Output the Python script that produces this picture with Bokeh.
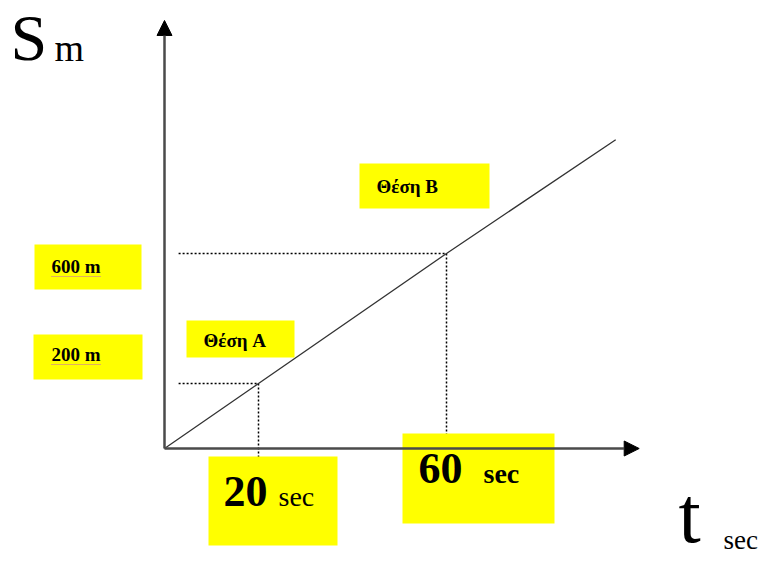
from bokeh.plotting import figure
from bokeh.models import BoxAnnotation, Label, Arrow, NormalHead, Range1d
from bokeh.embed import file_html
from bokeh.resources import INLINE

# ---- data ----
time_points = [20, 60]            # sec
dist_points = [200, 600]          # m
line_t = [0, 20, 60, 96]          # motion line (sec)
line_s = [0, 200, 600, 950]       # motion line (m)
time_labels = ["20", "60"]
dist_labels = ["200 m", "600 m"]
pos_labels = ["Θέση A", "Θέση B"]
axis_t_max = 101
axis_s_max = 1317

# ---- layout (reference-pixel mapping) ----
W, H = 764, 561
OX, OY = 164, 448        # origin in picture pixels
KX, KY = 4.7, 0.325      # px per sec, px per m


def X(px):
    return (px - OX) / KX


def Y(py):
    return (OY - py) / KY


p = figure(width=W, height=H, output_backend="svg", toolbar_location=None,
           x_range=Range1d(X(0), X(W)), y_range=Range1d(Y(H), Y(0)),
           x_axis_location=None, y_axis_location=None,
           min_border=0, min_border_left=0, min_border_right=0,
           min_border_top=0, min_border_bottom=0)
p.grid.visible = False
p.outline_line_color = None
p.background_fill_color = "white"

gap = 3.0
dot = dict(line_color="black", line_width=1.5, line_dash="2 2")
for t, s in zip(time_points, dist_points):
    p.line([gap, t], [s, s], **dot)
p.line([time_points[0]] * 2, [dist_points[0], -100], **dot)
p.line([time_points[1]] * 2, [dist_points[1], -100], **dot)

# motion line
p.line(line_t, line_s, line_color="#333333", line_width=1.3)

YEL = "#FFFF00"


def box(x0, x1, y0, y1):
    p.add_layout(BoxAnnotation(left=X(x0), right=X(x1), top=Y(y0), bottom=Y(y1),
                               fill_color=YEL, fill_alpha=1.0, line_color=None))


box(34, 141, 244, 289)    # 600 m
box(33, 142, 334, 379)    # 200 m
box(186, 294, 320, 357)   # Θέση A
box(359, 489, 163, 208)   # Θέση B
box(208, 337, 456, 545)   # 20 sec
box(402, 554, 433, 523)   # 60 sec

ax_style = dict(line_color="#4a4a4a", line_width=2.5)
p.add_layout(Arrow(end=NormalHead(size=15, fill_color="black", line_color="black"),
                   x_start=0, y_start=0, x_end=axis_t_max, y_end=0, **ax_style))
p.add_layout(Arrow(end=NormalHead(size=15, fill_color="black", line_color="black"),
                   x_start=0, y_start=0, x_end=0, y_end=axis_s_max, **ax_style))

# spell-check style dotted underline under distance labels
for uy in (276, 364):
    p.add_layout(Arrow(end=None, x_start=X(51), y_start=Y(uy), x_end=X(100), y_end=Y(uy),
                       line_color="#c060c0", line_width=1, line_dash="1 1"))

SERIF = "Liberation Serif"


def lab(text, px, py, size, bold=False):
    # py is the visual baseline; compensate for Bokeh's baseline offset
    p.add_layout(Label(x=X(px), y=Y(py - 0.36 * size), text=text, text_font=SERIF,
                       text_font_size=f"{size}px", text_color="black",
                       text_font_style="bold" if bold else "normal",
                       text_baseline="alphabetic", text_align="left"))


lab("S", 10, 61, 66)
lab("m", 54, 61, 38)
lab("t", 678, 543, 80)
lab("sec", 723, 549, 27)

lab(time_labels[0], 223, 507, 44, True)
lab("sec", 278, 506, 28)
lab(time_labels[1], 418, 484, 44, True)
lab("sec", 483, 483, 28, True)

lab(dist_labels[1], 51, 273, 19, True)
lab(dist_labels[0], 51, 361, 19, True)
lab(pos_labels[0], 203, 347, 19, True)
lab(pos_labels[1], 376, 193, 19, True)

open("out.html", "w").write(file_html(p, INLINE))
